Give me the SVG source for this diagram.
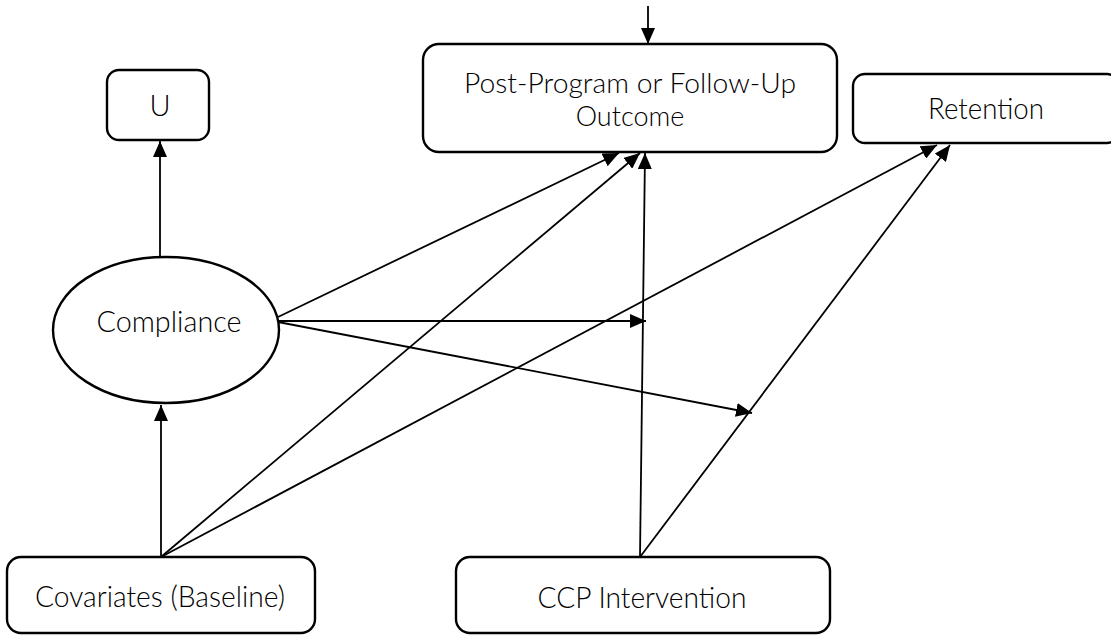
<svg xmlns="http://www.w3.org/2000/svg" width="1111" height="635" viewBox="0 0 1111 635">
<style>
.box{fill:#fff;stroke:#000;stroke-width:2.4}
.lbl{font-family:Lato,"Liberation Sans",sans-serif;font-weight:300;font-size:29px;fill:#000;text-anchor:middle}
.sm{font-size:27px}
.edge{stroke:#000;stroke-width:1.8;fill:none;marker-end:url(#ah)}
</style>
<defs>
<marker id="ah" markerUnits="userSpaceOnUse" markerWidth="16" markerHeight="14" refX="16" refY="7" orient="auto">
<path d="M0,0 L16,7 L0,14 z" fill="#000"/>
</marker>
</defs>
<rect width="1111" height="635" fill="#fff"/>
<g id="connectors">
<line class="edge" x1="648" y1="6" x2="648" y2="44"/>
<line class="edge" x1="160" y1="258" x2="160" y2="141"/>
<line class="edge" x1="161" y1="557" x2="161" y2="405"/>
<line class="edge" x1="161" y1="557" x2="640" y2="153"/>
<line class="edge" x1="161" y1="557" x2="937" y2="145"/>
<line class="edge" x1="278" y1="317" x2="619" y2="153"/>
<line class="edge" x1="278" y1="321" x2="646" y2="321"/>
<line class="edge" x1="278" y1="322" x2="752" y2="413"/>
<line class="edge" x1="640" y1="557" x2="645" y2="153"/>
<line class="edge" x1="640" y1="557" x2="950" y2="145"/>
</g>
<g id="node-outcome">
<rect class="box" x="423" y="44" width="414" height="108" rx="16"/>
<text class="lbl sm" x="630" y="93" textLength="332" lengthAdjust="spacingAndGlyphs">Post-Program or Follow-Up</text>
<text class="lbl sm" x="630" y="126">Outcome</text>
</g>
<g id="node-retention">
<rect class="box" x="853" y="74" width="266" height="69" rx="12"/>
<text class="lbl" x="986" y="119" textLength="116" lengthAdjust="spacingAndGlyphs">Retention</text>
</g>
<g id="node-u">
<rect class="box" x="107" y="70" width="102" height="70" rx="12"/>
<text class="lbl" x="160" y="116">U</text>
</g>
<g id="node-compliance">
<ellipse class="box" cx="166" cy="330" rx="113" ry="73"/>
<text class="lbl" x="169" y="332" textLength="145" lengthAdjust="spacingAndGlyphs">Compliance</text>
</g>
<g id="node-covariates">
<rect class="box" x="7" y="557" width="308" height="76" rx="14"/>
<text class="lbl" x="160" y="607" textLength="250" lengthAdjust="spacingAndGlyphs">Covariates (Baseline)</text>
</g>
<g id="node-ccp">
<rect class="box" x="456" y="557" width="374" height="76" rx="14"/>
<text class="lbl" x="642" y="608" textLength="209" lengthAdjust="spacingAndGlyphs">CCP Intervention</text>
</g>
</svg>
